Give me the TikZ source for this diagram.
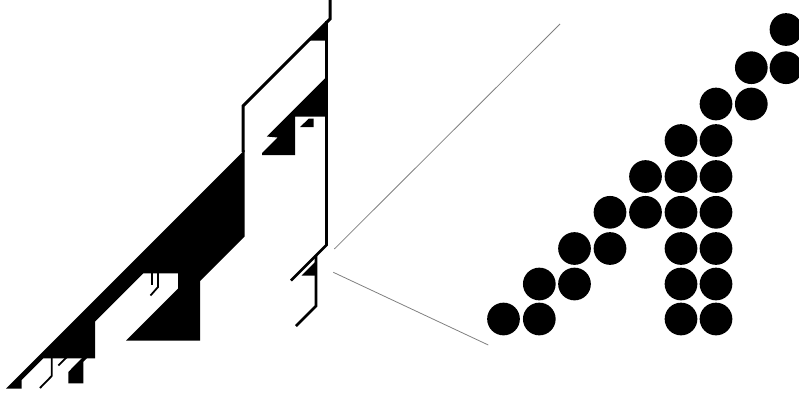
\documentclass[tikz,border=0pt]{standalone}
\begin{document}
\begin{tikzpicture}[x=1pt,y=-1pt,
  blk/.style={fill=black,draw=none},
  thick3/.style={line width=3pt,line join=miter,line cap=butt},
  thin2/.style={line width=1.8pt,line join=miter,line cap=butt},
  zoomline/.style={draw=gray,line width=0.8pt},
  dot/.style={circle,fill=black,draw=none,minimum size=32.7pt,inner sep=0pt}]
\useasboundingbox (0,0) rectangle (799,394);
% ---- left pattern ----
% main band
\fill[blk] (244.5,150) -- (244.5,236.5) -- (200,281) -- (200,340.7) -- (126,340.7)
  -- (178,288.7) -- (178,273.3) -- (143.3,273.3) -- (95,321.6) -- (95,358.3)
  -- (43.2,358.3) -- (21.7,379.8) -- (21.7,388.5) -- (6,388.5) -- cycle;
% upper wedge
\fill[blk] (325,78.3) -- (326,78.3) -- (326,116.7) -- (295,116.7) -- (295,155) -- (262,155)
  -- (262,153) -- (277.5,137.5) -- (266.8,136.5) -- cycle;
% top small triangle
\fill[blk] (308.3,40.7) -- (326,40.7) -- (326,23) -- cycle;
% small triangle under wedge
\fill[blk] (300,127) -- (313.5,127) -- (313.5,118.5) -- (309,118.5) -- cycle;
% triangle near lower right lines
\fill[blk] (301.7,275.5) -- (316,275.5) -- (316,261) -- cycle;
% foot shape e
\fill[blk] (87,358) -- (83.3,361.7) -- (83.3,383.3) -- (68.3,383.3) -- (68.3,372) -- (82,358) -- cycle;
% outline strokes
\draw[thick3] (330,-2) -- (330,19) -- (243,106) -- (243,152);
\draw[line width=2.6pt,line join=miter] (326.5,21) -- (326.5,245) -- (291,280.5);
\draw[line width=2.6pt,line join=miter] (316,255) -- (316,306) -- (296,326);
% thin lines in notch and at bottom
\draw[thin2] (152.3,273) -- (152.3,285);
\draw[thin2] (158,273) -- (158,287) -- (150.5,295.5);
\draw[thin2] (51.7,358) -- (51.7,376) -- (40,388);
\draw[thin2] (58.3,365.5) -- (67.5,356.5);
% ---- zoomed circles ----
\foreach \c/\r/\n in {8/0/a,7/1/b,8/1/c,6/2/d,7/2/e,5/3/f,6/3/g,4/4/h,5/4/i,6/4/j,
  3/5/k,4/5/l,5/5/m,6/5/n,2/6/o,3/6/p,5/6/q,6/6/s,1/7/t,2/7/u,5/7/v,6/7/w,
  0/8/x,1/8/y,5/8/z,6/8/zz}{
  \pgfmathsetmacro{\cx}{{503.5,539.3,574.5,610,645.5,681,716,751.3,786}[\c]}
  \pgfmathsetmacro{\cy}{{29.5,67.7,104,140.5,176.5,212.3,248.5,284,319}[\r]}
  \node[dot] (d\n) at (\cx,\cy) {};
}
% ---- connector lines ----
\coordinate (u1) at (334.3,249);
\coordinate (u2) at (560,24);
\coordinate (l1) at (333.3,272.3);
\coordinate (l2) at (488.3,345);
\draw[zoomline] (u1) -- (u2);
\draw[zoomline] (l1) -- (l2);
\end{tikzpicture}
\end{document}
